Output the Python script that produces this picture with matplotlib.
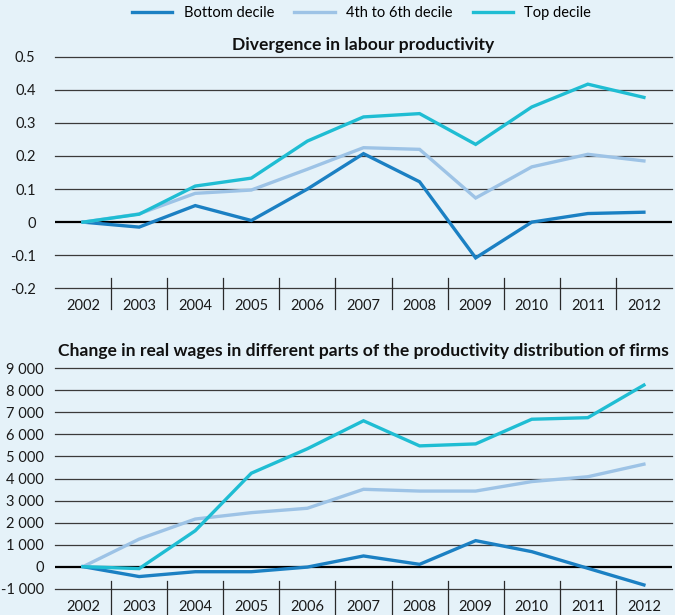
import matplotlib.pyplot as plt
import matplotlib.transforms as mtransforms

# -------------------- DATOS --------------------
years = ["2002", "2003", "2004", "2005", "2006", "2007", "2008", "2009", "2010", "2011", "2012"]

prod_bottom = [0, -0.015, 0.05, 0.005, 0.10, 0.207, 0.122, -0.108, 0.0, 0.026, 0.030]
prod_mid = [0, 0.025, 0.087, 0.097, 0.16, 0.225, 0.220, 0.073, 0.167, 0.205, 0.185]
prod_top = [0, 0.024, 0.109, 0.133, 0.245, 0.318, 0.328, 0.235, 0.348, 0.417, 0.377]

wage_bottom = [0, -450, -230, -230, -20, 485, 105, 1180, 680, -75, -830]
wage_mid = [0, 1250, 2160, 2450, 2650, 3510, 3430, 3430, 3860, 4080, 4650]
wage_top = [0, -90, 1630, 4240, 5350, 6620, 5480, 5570, 6690, 6760, 8240]

prod_ticks = [-0.2, -0.1, 0, 0.1, 0.2, 0.3, 0.4, 0.5]
prod_ticklabels = ["-0.2", "-0.1", "0", "0.1", "0.2", "0.3", "0.4", "0.5"]
wage_ticks = [-1000, 0, 1000, 2000, 3000, 4000, 5000, 6000, 7000, 8000, 9000]
wage_ticklabels = ["-1 000", "0", "1 000", "2 000", "3 000", "4 000", "5 000",
                   "6 000", "7 000", "8 000", "9 000"]

series_names = ["Bottom decile", "4th to 6th decile", "Top decile"]

# -------------------- ESTILO --------------------
bg = "#e5f2f9"
colors = ["#1b80c3", "#9dc3e6", "#1fbdd3"]
plt.rcParams["font.family"] = ["Lato", "DejaVu Sans"]

fig = plt.figure(figsize=(6.75, 6.15), dpi=100, facecolor=bg)
ax1 = fig.add_axes([0.0815, 0.5312, 0.914, 0.3766])
ax2 = fig.add_axes([0.0815, 0.0428, 0.914, 0.3583])


def style_panel(ax, data, ticks, ticklabels, title, title_pad, sep_top, sep_bot):
    ax.set_facecolor(bg)
    x = list(range(len(years)))
    lines = []
    for values, c, name in zip(data, colors, series_names):
        ln, = ax.plot(x, values, color=c, lw=2.4, label=name, zorder=3,
                      solid_joinstyle="miter")
        lines.append(ln)
    ax.set_xlim(-0.5, len(years) - 0.5)
    ax.set_ylim(ticks[0], ticks[-1])
    ax.set_yticks(ticks)
    ax.set_yticklabels(ticklabels)
    for t in ticks:
        if t == 0:
            ax.axhline(t, color="black", lw=1.6, zorder=2)
        else:
            ax.axhline(t, color="#3a3a3a", lw=0.9, zorder=1, clip_on=False)
    ax.set_xticks(x)
    ax.set_xticklabels(years)
    ax.tick_params(axis="both", length=0, labelsize=10.5, colors="#1a1a1a")
    ax.tick_params(axis="x", pad=8)
    for s in ax.spines.values():
        s.set_visible(False)
    # separadores entre categorias
    trans = mtransforms.blended_transform_factory(ax.transData, ax.transAxes)
    for k in range(len(years) - 1):
        ax.plot([k + 0.5, k + 0.5], [sep_bot, sep_top], color="#2a2a2a", lw=0.9,
                transform=trans, clip_on=False)
    ax.set_title(title, fontsize=12.6, fontweight="bold", pad=title_pad, color="#111111")
    return lines


lines = style_panel(ax1, [prod_bottom, prod_mid, prod_top], prod_ticks, prod_ticklabels,
                    "Divergence in labour productivity", 5, 0.043, -0.09)
ax1.tick_params(axis="y", pad=14)
style_panel(ax2, [wage_bottom, wage_mid, wage_top], wage_ticks, wage_ticklabels,
            "Change in real wages in different parts of the productivity distribution of firms",
            9, 0.036, -0.13)
ax2.tick_params(axis="y", pad=8)

fig.legend(handles=lines, labels=series_names, loc="center", bbox_to_anchor=(0.536, 0.979),
           ncol=3, frameon=False, fontsize=10.5, handlelength=2.75, columnspacing=1.37,
           handletextpad=0.8)

fig.savefig("out.png", dpi=100, facecolor=bg)
